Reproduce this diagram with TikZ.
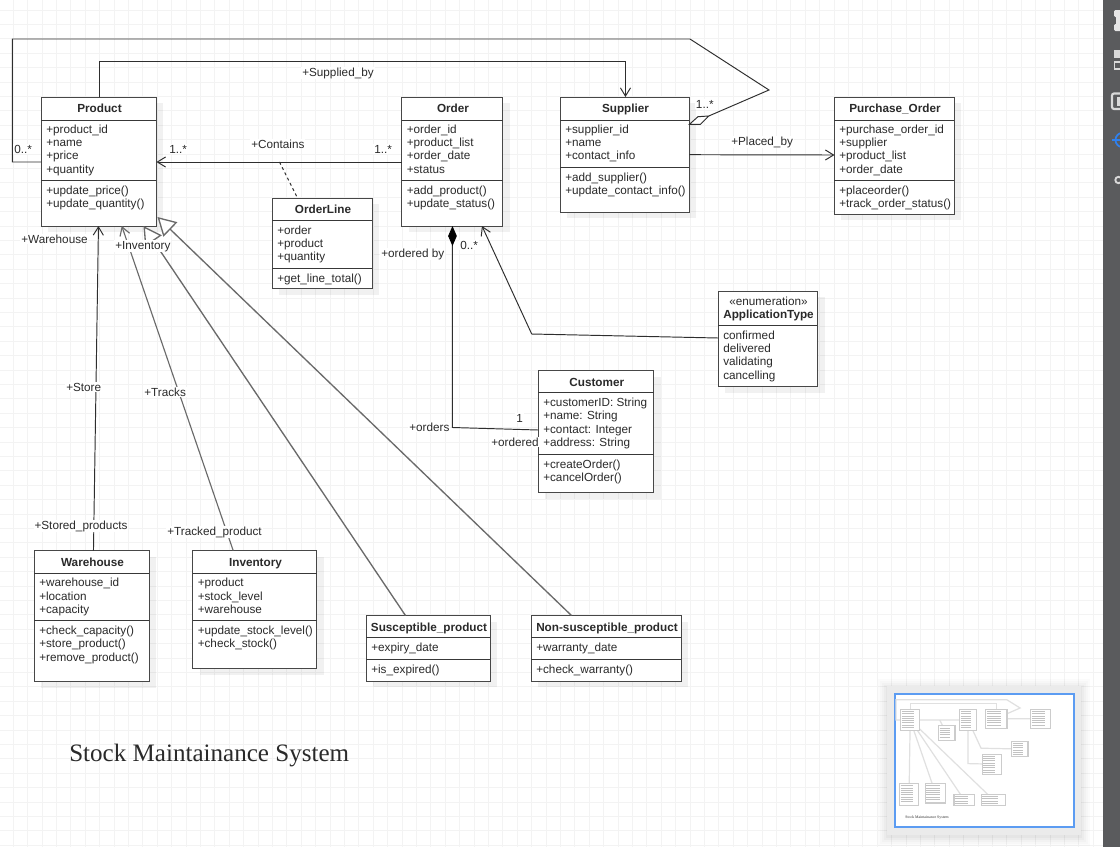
\documentclass[tikz,border=0pt]{standalone}
\usepackage{fontspec}
\setmainfont{Liberation Sans}
\newfontfamily\serifttl{Liberation Serif}
\usetikzlibrary{arrows.meta,calc}
\definecolor{ink}{HTML}{2A2A2A}
\definecolor{gridc}{HTML}{F3F3F3}
\definecolor{diag}{HTML}{6A6A6A}
\definecolor{panel}{HTML}{5A5B5D}
\definecolor{mapblue}{HTML}{5C9CF2}
\definecolor{iconblue}{HTML}{2F80ED}
\tikzset{
  classbox/.style={draw=black!72,fill=white,line width=.75pt,inner sep=0,outer sep=0,anchor=north west,xshift=-.4pt},
  secline/.style={draw=black!78,line width=.72pt},
  ctext/.style={font=\fontsize{8.8}{9}\selectfont,text=ink,inner sep=0,anchor=base west},
  ttext/.style={font=\fontsize{8.8}{9}\selectfont\bfseries,text=ink,inner sep=0,anchor=base},
  lbl/.style={font=\fontsize{8.8}{9}\selectfont,text=ink,inner sep=.6pt,anchor=base west,fill=white,xshift=-.6pt},
  conn/.style={draw=black!82,line width=.72pt},
  dconn/.style={draw=diag,line width=1pt},
  openarr/.style={-{Straight Barb[length=6.2pt,width=7.6pt]}},
  gen/.style={-{Triangle[open,length=13.5pt,width=15pt,fill=white]}},
}
\newcommand{\ashift}{0}
\newcommand{\tshift}{0}
% id x y w h hdr sep title attrs methods
\newcommand{\umlclass}[9]{%
  \fill[black,opacity=.055] ({#2+6},{#3+6}) rectangle ({#2+#4+6},{#3+#5+6});
  \node[classbox,minimum width=#4*.75pt,minimum height=#5*.75pt] (#1) at (#2,#3) {};
  \draw[secline] ($(#1.north west)+(0,#6)$) -- ($(#1.north east)+(0,#6)$);
  \draw[secline] ($(#1.north west)+(0,#7)$) -- ($(#1.north east)+(0,#7)$);
  \node[ttext] (#1-t) at ({#2+#4/2},{#3+15+\tshift}) {#8};
  \foreach \t [count=\i] in {#9} {
    \node[ctext] (#1-a\i) at ({#2+4},{#3+#6+13+\ashift+13.4*(\i-1)}) {\t};
  }
  \umlmethods{#1}{#2}{#3}{#7}%
}
\newcommand{\umlmethods}[5]{%
  \foreach \t [count=\i] in {#5} {
    \node[ctext] (#1-m\i) at ({#2+4},{#3+#4+14+13.4*(\i-1)}) {\t};
  }
}
\begin{document}
\begin{tikzpicture}[x=.75pt,y=-.75pt]
\useasboundingbox (0,0) rectangle (1120,847);
\clip (0,0) rectangle (1120,847);
\fill[white] (0,0) rectangle (1120,847);
% grid
\foreach \k in {0,...,78} \draw[gridc,line width=.7pt] ({1050-14.4*\k+14.4*5},0) -- ({1050-14.4*\k+14.4*5},847);
\foreach \k in {0,...,59} \draw[gridc,line width=.7pt] (0,{10+14.4*\k}) -- (1120,{10+14.4*\k});
% classes
\umlclass{product}{42}{97}{115}{129}{23}{83}{Product}{+product\_id,+name,+price,+quantity}{+update\_price(),+update\_quantity()}
\umlclass{order}{402.5}{97}{101}{129}{23}{83}{Order}{+order\_id,+product\_list,+order\_date,+status}{+add\_product(),+update\_status()}
\umlclass{supplier}{561}{97}{129}{115}{23}{70}{Supplier}{+supplier\_id,+name,+contact\_info}{+add\_supplier(),+update\_contact\_info()}
\umlclass{purchase}{835}{97}{120}{117}{23}{83}{Purchase\_Order}{+purchase\_order\_id,+supplier,+product\_list,+order\_date}{+placeorder(),+track\_order\_status()}
\renewcommand{\ashift}{1}
\umlclass{orderline}{273}{198}{100}{90.5}{22}{70}{OrderLine}{+order,+product,+quantity}{+get\_line\_total()}
\renewcommand{\tshift}{.6}
\umlclass{customer}{539}{370.5}{115.5}{122}{22}{84}{Customer}{+customerID: String,+name: String,+contact: Integer,+address: String}{+createOrder(),+cancelOrder()}
\renewcommand{\ashift}{.6}
\renewcommand{\tshift}{1}
\umlclass{warehouse}{35}{550.5}{115}{131}{22.5}{70}{Warehouse}{+warehouse\_id,+location,+capacity}{+check\_capacity(),+store\_product(),+remove\_product()}
\umlclass{inventory}{193.5}{550.5}{124}{118}{22.5}{70}{Inventory}{+product,+stock\_level,+warehouse}{+update\_stock\_level(),+check\_stock()}
\umlclass{suscept}{367}{615.5}{124}{65.5}{22}{44}{Susceptible\_product}{+expiry\_date}{+is\_expired()}
\umlclass{nonsus}{532}{615.5}{150}{65.5}{22}{44}{Non-susceptible\_product}{+warranty\_date}{+check\_warranty()}
% enumeration
\fill[black,opacity=.055] (725,297) rectangle (824.5,392.5);
\node[classbox,minimum width=99*.75pt,minimum height=95.5*.75pt] (apptype) at (719,291) {};
\draw[secline] ($(apptype.north west)+(0,34)$) -- ($(apptype.north east)+(0,34)$);
\node[font=\fontsize{8.8}{9}\selectfont,text=ink,inner sep=0,anchor=base] (apptype-s) at (768.5,305) {«enumeration»};
\node[ttext] (apptype-t) at (768.5,318.3) {ApplicationType};
\foreach \t [count=\i] in {confirmed,delivered,validating,cancelling}
  \node[ctext] (apptype-a\i) at (723,{339+13.4*(\i-1)}) {\t};
% connectors
\draw[conn,openarr] ($(product.north west)+(58,0)$) -- ++(0,-36) -| ($(supplier.north west)+(65,0)$);
\draw[conn] ($(product.north west)+(0,65)$) -- ++(-29,0) -- ++(0,-123) -- ++(677.5,0) -- ++(79,51) -- ($(supplier.north east)+(19.3,19)$);
\draw[conn,fill=white] ($(supplier.north east)+(0,27.3)$) -- ++(8.5,-7.6) -- ++(10.8,-.7) -- ++(-8.3,8.3) -- cycle;
\draw[conn,openarr] ($(order.north west)+(0,65)$) -- ($(product.north east)+(0,65)$);
\draw[conn,dash pattern=on 2.2pt off 2.2pt] ($(product.north east)+(123,65)$) -- ($(orderline.north west)+(25,0)$);
\draw[conn,openarr] ($(supplier.north east)+(0,57.7)$) -- ($(purchase.north west)+(0,58)$);
\draw[conn,{Diamond[length=15pt,width=6.5pt,black]}-] (order.south) -- ++(0,201.5) -- ($(customer.north west)+(0,59.5)$);
\draw[conn,openarr] ($(apptype.north west)+(0,47)$) -- (531.7,334) -- ($(order.south east)+(-21,0)$);
\draw[conn,openarr] ($(warehouse.north west)+(59,0)$) -- ($(product.south west)+(57,0)$);
\draw[dconn,openarr,line width=.85pt] ($(inventory.north west)+(40.2,0)$) -- ($(product.south west)+(80.3,0)$);
\draw[dconn,gen] ($(suscept.north west)+(39,0)$) -- ($(product.south west)+(102,0)$);
\draw[dconn,gen] ($(nonsus.north west)+(40,0)$) -- ($(product.south east)+(1,-9)$);
% labels
\node[lbl] (l1) at (302,76) {+Supplied\_by};
\node[lbl] (l2) at (14,153) {0..*};
\node[lbl] (l3) at (169,153) {1..*};
\node[lbl] (l4) at (251,148) {+Contains};
\node[lbl] (l5) at (374,153) {1..*};
\node[lbl] (l6) at (695.7,108) {1..*};
\node[lbl] (l7) at (731,145) {+Placed\_by};
\node[lbl] (l8) at (381,257) {+ordered by};
\node[lbl] (l9) at (460,249) {0..*};
\node[lbl] (l10) at (21,243) {+Warehouse};
\node[lbl] (l11) at (115,249) {+Inventory};
\node[lbl] (l12) at (66,391.3) {+Store};
\node[lbl] (l13) at (144,396) {+Tracks};
\node[lbl] (l14) at (409,431) {+orders};
\node[lbl] (l15) at (516,422) {1};
\node[lbl] (l16) at (491,446) {+ordered};
\node[lbl] (l17) at (34.3,529.2) {+Stored\_products};
\node[lbl] (l18) at (167,535.2) {+Tracked\_product};
\node[font=\fontsize{18.8}{19}\selectfont\serifttl,text=ink,inner sep=0,anchor=base west] (title) at (69,761) {Stock Maintainance System};
% side panel
\fill[panel] (1103,0) rectangle (1120,847);
\fill[white!90!black,rounded corners=1pt] (1114,10) rectangle (1122,17);
\fill[white!90!black] (1116,17) rectangle (1122,24);
\fill[white!90!black,rounded corners=1pt] (1114,24) rectangle (1122,31);
\fill[white!85!black] (1114,50) rectangle (1122,58);
\draw[white!85!black,line width=.9pt] (1114.5,62) rectangle (1124,69);
\draw[white!85!black,line width=1.6pt,rounded corners=1.5pt] (1112,93.5) rectangle (1126,109);
\fill[white!85!black] (1117,97) rectangle (1120,106);
\draw[iconblue,line width=1.3pt] (1122,140) circle (6.5 and 7);
\draw[iconblue,line width=1.6pt] (1112,140) -- (1120,140);
\draw[white!85!black,line width=1.4pt] (1118.5,180) circle (3.2);
% minimap
\foreach \m/\o in {9/.014,7/.016,5/.018,3/.022,1/.026}
  \fill[black,opacity=\o] ({887-\m},{686-\m+2}) rectangle ({1081+\m},{835+\m+2});
\fill[white!92!black] (887,686) rectangle (1081,835);
\draw[mapblue,fill=white,line width=1.5pt] (895,694) rectangle (1074,827);
\begin{scope}[shift={(893.8,693.4)},x=.123pt,y=-.123pt]
  \draw[black!12,line width=.9pt] (100,97) -- (100,61) -- (626,61) -- (626,97);
  \draw[black!12,line width=.9pt] (42,162) -- (13,162) -- (13,39) -- (690,39) -- (770,89) -- (690,124);
  \draw[black!12,line width=.9pt] (402,162) -- (157,162) (280,162) -- (298,198) (690,155) -- (835,155);
  \draw[black!12,line width=.9pt] (452,226) -- (452,428) -- (539,430) (719,338) -- (532,334) -- (482,226);
  \draw[black!12,line width=.9pt] (94,550) -- (99,226) (234,550) -- (122,226) (406,615) -- (144,226) (572,615) -- (158,217);
  \foreach \x/\y/\w/\h in {42/97/115/129,402/97/101/129,561/97/129/115,835/97/120/117,273/198/100/90,539/370/115/122,719/291/99/95,35/550/115/131,193/550/124/118,367/615/124/66,532/615/150/66}{
    \draw[black!20,fill=white,line width=.8pt] (\x,\y) rectangle ({\x+\w},{\y+\h});
    \foreach \r in {12,26,...,\h}{
      \ifnum\r<\numexpr\h-8\relax
        \draw[black!24,line width=.5pt] ({\x+6},{\y+\r}) -- ({\x+\w*.7},{\y+\r});
      \fi
    }
  }
  \node[font=\fontsize{2.9}{3}\selectfont\serifttl,text=black!80,inner sep=0,anchor=base west] (minititle) at (69,761) {Stock Maintainance System};
\end{scope}
\end{tikzpicture}
\end{document}
